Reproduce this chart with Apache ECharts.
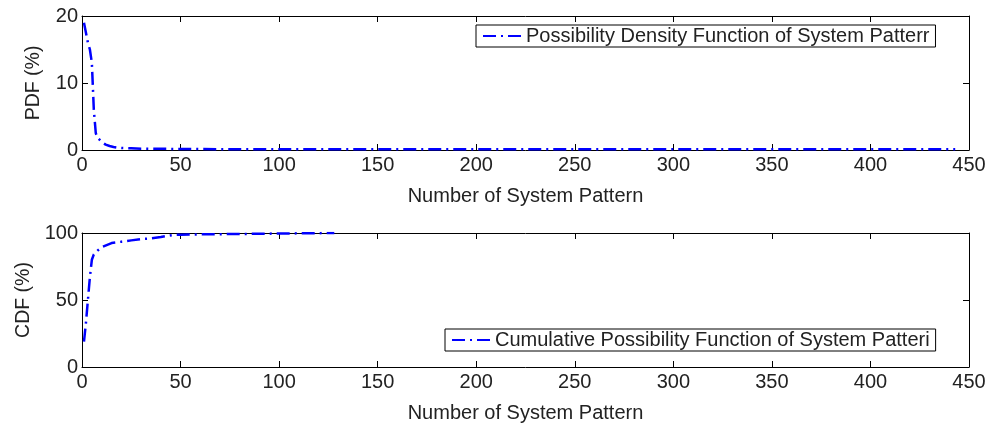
<!DOCTYPE html>
<html>
<head>
<meta charset="utf-8">
<script src="https://cdn.jsdelivr.net/npm/echarts@6/dist/echarts.min.js"></script>
<style>
  html, body { margin: 0; padding: 0; background: #fff; }
  #chart { width: 990px; height: 426px; }
</style>
</head>
<body>
<div id="chart"></div>
<script>
// Probability density of system patterns (%)
const pdfX = [1, 2, 3, 4, 5, 6, 7, 8, 9, 10, 12, 14, 16, 18, 20, 25, 30, 40, 50, 75, 100, 150, 200, 250, 300, 350, 400, 443];
const pdfY = [19, 17.5, 16, 15, 13, 6, 2.5, 1.8, 1.5, 1.2, 0.8, 0.6, 0.45, 0.35, 0.3, 0.25, 0.2, 0.18, 0.15, 0.12, 0.1, 0.1, 0.1, 0.1, 0.1, 0.1, 0.1, 0.1];

// Cumulative distribution of system patterns (%)
const cdfX = [1, 2, 3, 4, 5, 6, 8, 10, 15, 20, 25, 30, 35, 40, 46, 50, 60, 75, 100, 128];
const cdfY = [19, 33, 50, 67, 80, 84, 87, 89.5, 92.5, 93.5, 94.5, 95.5, 96, 97, 98.5, 98.7, 99, 99.2, 99.6, 100];

const xTicks = [0, 50, 100, 150, 200, 250, 300, 350, 400, 450];
const pdfTicks = [0, 10, 20];
const cdfTicks = [0, 50, 100];

const xName = 'Number of System Pattern';
const pdfName = 'PDF (%)';
const cdfName = 'CDF (%)';
const pdfLegend = 'Possibility Density Function of System Patterr';
const cdfLegend = 'Cumulative Possibility Function of System Patteri';

const FONT = 'Liberation Sans';
const zip = (xs, ys) => xs.map((x, i) => [x, ys[i]]);

const axisLine = { show: true, onZero: false, lineStyle: { color: '#000', width: 1 } };
const tickIn = { show: true, inside: true, length: 6, lineStyle: { color: '#000' } };

function xAxes(gridIndex) {
  const base = {
    gridIndex, type: 'value', min: xTicks[0], max: xTicks[xTicks.length - 1], interval: xTicks[1] - xTicks[0],
    axisLine, axisTick: tickIn, splitLine: { show: false }
  };
  return [
    Object.assign({}, base, {
      position: 'bottom',
      name: xName, nameLocation: 'middle', nameGap: 36,
      nameTextStyle: { fontFamily: FONT, fontSize: 20, color: '#222' },
      axisLabel: { fontFamily: FONT, fontSize: 20, color: '#222', margin: 5 }
    }),
    Object.assign({}, base, { position: 'top', axisLabel: { show: false } })
  ];
}

function yAxes(gridIndex, ticks, name, gap) {
  const base = {
    gridIndex, type: 'value', min: ticks[0], max: ticks[ticks.length - 1], interval: ticks[1] - ticks[0],
    axisLine, axisTick: tickIn, splitLine: { show: false }
  };
  return [
    Object.assign({}, base, {
      position: 'left',
      name, nameLocation: 'middle', nameGap: gap, nameRotate: 90,
      nameTextStyle: { fontFamily: FONT, fontSize: 19.5, color: '#222' },
      axisLabel: { fontFamily: FONT, fontSize: 20, color: '#222', margin: 4 }
    }),
    Object.assign({}, base, { position: 'right', axisLabel: { show: false } })
  ];
}

const lineStyle = { color: '#0000ff', width: 2.5, type: [13, 5, 2, 5] };

const legendBase = {
  itemWidth: 38, itemHeight: 12, itemGap: 0,
  borderColor: '#000', borderWidth: 1, borderRadius: 0, padding: [1, 6, 1, 6],
  itemStyle: { opacity: 0 },
  textStyle: { fontFamily: FONT, fontSize: 20, color: '#222' }
};

const chart = echarts.init(document.getElementById('chart'), null, { renderer: 'canvas' });
chart.setOption({
  animation: false,
  backgroundColor: '#fff',
  grid: [
    { left: 82, right: 21, top: 16, height: 134 },
    { left: 82, right: 21, top: 233, height: 134 }
  ],
  xAxis: [...xAxes(0), ...xAxes(1)],
  yAxis: [...yAxes(0, pdfTicks, pdfName, 38), ...yAxes(1, cdfTicks, cdfName, 48)],
  legend: [
    Object.assign({}, legendBase, { data: [pdfLegend], left: 476, top: 25 }),
    Object.assign({}, legendBase, { data: [cdfLegend], left: 445, top: 329 })
  ],
  series: [
    {
      name: pdfLegend, type: 'line', xAxisIndex: 0, yAxisIndex: 0,
      data: zip(pdfX, pdfY), showSymbol: false, symbol: 'none', lineStyle, itemStyle: { color: '#0000ff' }
    },
    {
      name: cdfLegend, type: 'line', xAxisIndex: 2, yAxisIndex: 2,
      data: zip(cdfX, cdfY), showSymbol: false, symbol: 'none', lineStyle, itemStyle: { color: '#0000ff' }
    }
  ]
});
</script>
</body>
</html>
